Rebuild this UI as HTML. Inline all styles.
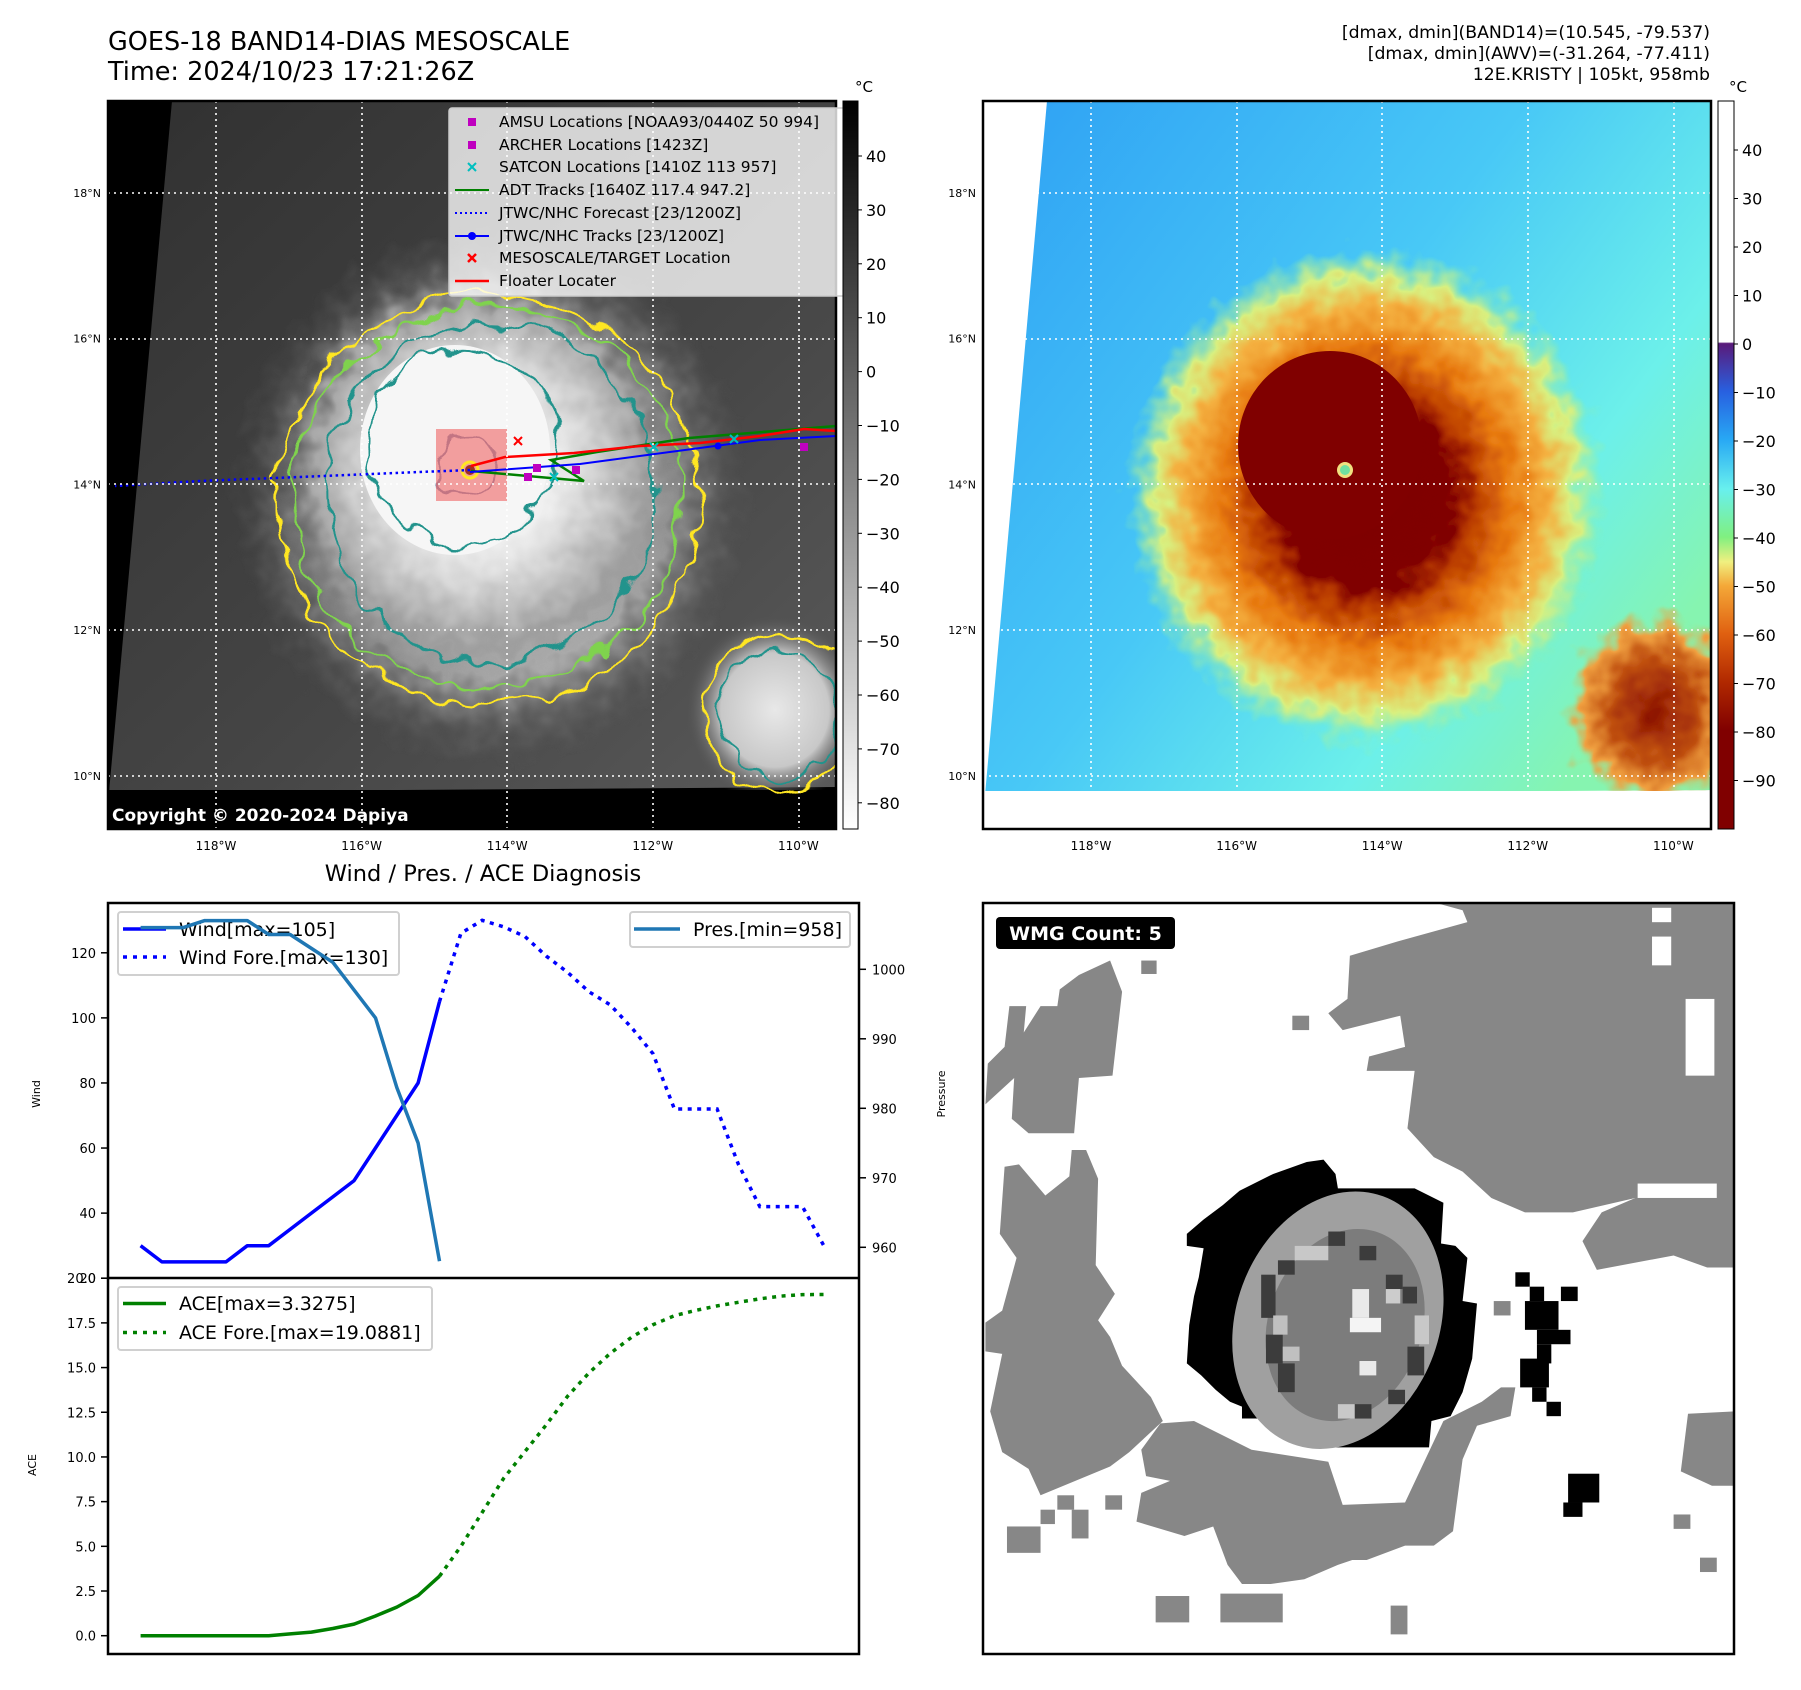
<!DOCTYPE html>
<html><head><meta charset="utf-8">
<style>
html,body{margin:0;padding:0;background:#fff;}
svg{display:block;font-family:"DejaVu Sans","Liberation Sans",sans-serif;}
</style></head>
<body>
<svg id="root" width="1801" height="1690" viewBox="0 0 1801 1690" xmlns="http://www.w3.org/2000/svg">
<defs>
  <filter id="wob" x="-20%" y="-20%" width="140%" height="140%">
    <feTurbulence type="fractalNoise" baseFrequency="0.035" numOctaves="2" seed="3"/>
    <feDisplacementMap in="SourceGraphic" scale="28" xChannelSelector="R" yChannelSelector="G"/>
  </filter>
  <filter id="wob2" x="-20%" y="-20%" width="140%" height="140%">
    <feTurbulence type="fractalNoise" baseFrequency="0.05" numOctaves="2" seed="7"/>
    <feDisplacementMap in="SourceGraphic" scale="40" xChannelSelector="R" yChannelSelector="G"/>
  </filter>
  <radialGradient id="gCloud" cx="0.5" cy="0.5" r="0.5">
    <stop offset="0" stop-color="#fafafa"/>
    <stop offset="0.35" stop-color="#f0f0f0"/>
    <stop offset="0.55" stop-color="#d6d6d6"/>
    <stop offset="0.8" stop-color="#a8a8a8"/>
    <stop offset="1" stop-color="#4a4a4a" stop-opacity="0"/>
  </radialGradient>
  <radialGradient id="gCloud2" cx="0.5" cy="0.5" r="0.5">
    <stop offset="0" stop-color="#e8e8e8"/>
    <stop offset="0.6" stop-color="#c8c8c8"/>
    <stop offset="1" stop-color="#505050" stop-opacity="0"/>
  </radialGradient>
  <linearGradient id="gDarkBg" x1="0" y1="0" x2="1" y2="1">
    <stop offset="0" stop-color="#303030"/>
    <stop offset="0.6" stop-color="#464646"/>
    <stop offset="1" stop-color="#5a5a5a"/>
  </linearGradient>
  <linearGradient id="gBlueBg" x1="0" y1="0" x2="1" y2="0.7">
    <stop offset="0" stop-color="#2ea0f4"/>
    <stop offset="0.5" stop-color="#48c8f6"/>
    <stop offset="0.8" stop-color="#6cf0ea"/>
    <stop offset="1" stop-color="#86f4b0"/>
  </linearGradient>
  <radialGradient id="gStorm" cx="0.5" cy="0.5" r="0.5">
    <stop offset="0" stop-color="#7e0000"/>
    <stop offset="0.36" stop-color="#800000"/>
    <stop offset="0.45" stop-color="#b83a00"/>
    <stop offset="0.6" stop-color="#e87a10"/>
    <stop offset="0.75" stop-color="#f4b040"/>
    <stop offset="0.87" stop-color="#d8f080"/>
    <stop offset="1" stop-color="#80f0b0" stop-opacity="0"/>
  </radialGradient>
  <radialGradient id="gStorm2" cx="0.5" cy="0.5" r="0.5">
    <stop offset="0" stop-color="#8a1000"/>
    <stop offset="0.5" stop-color="#c05010"/>
    <stop offset="0.8" stop-color="#f0a040"/>
    <stop offset="1" stop-color="#90f0a0" stop-opacity="0"/>
  </radialGradient>
  <linearGradient id="gCbGray" x1="0" y1="0" x2="0" y2="1">
    <stop offset="0" stop-color="#000"/>
    <stop offset="1" stop-color="#fff"/>
  </linearGradient>
  <linearGradient id="gCbColor" x1="0" y1="0" x2="0" y2="1">
    <stop offset="0" stop-color="#fff"/>
    <stop offset="0.331" stop-color="#fff"/>
    <stop offset="0.333" stop-color="#5a1a7a"/>
    <stop offset="0.399" stop-color="#2860e0"/>
    <stop offset="0.465" stop-color="#28a8f4"/>
    <stop offset="0.533" stop-color="#68f0ee"/>
    <stop offset="0.599" stop-color="#80f080"/>
    <stop offset="0.633" stop-color="#f0f080"/>
    <stop offset="0.666" stop-color="#f4a838"/>
    <stop offset="0.732" stop-color="#e06010"/>
    <stop offset="0.799" stop-color="#b02800"/>
    <stop offset="0.865" stop-color="#800000"/>
    <stop offset="1" stop-color="#800000"/>
  </linearGradient>
  <clipPath id="clipL"><rect x="108" y="101" width="728" height="728"/></clipPath>
  <clipPath id="clipR"><rect x="983" y="101" width="728" height="728"/></clipPath>
</defs>

<!-- Titles -->
<text x="108" y="50" font-size="25.5">GOES-18 BAND14-DIAS MESOSCALE</text>
<text x="108" y="80" font-size="25.5">Time: 2024/10/23 17:21:26Z</text>
<g font-size="17.3" text-anchor="end">
  <text x="1710" y="38">[dmax, dmin](BAND14)=(10.545, -79.537)</text>
  <text x="1710" y="59">[dmax, dmin](AWV)=(-31.264, -77.411)</text>
  <text x="1710" y="80">12E.KRISTY | 105kt, 958mb</text>
</g>

<!-- LEFT MAP -->
<g>
  <g clip-path="url(#clipL)">
    <rect x="108" y="101" width="728" height="728" fill="#000"/>
    <polygon points="172,101 836,101 836,787 109,792" fill="url(#gDarkBg)"/>
    <ellipse cx="491" cy="496" rx="260" ry="270" fill="url(#gCloud2)" filter="url(#wob2)"/>
    <ellipse cx="478" cy="470" rx="200" ry="205" fill="url(#gCloud)" filter="url(#wob2)"/>
    <ellipse cx="455" cy="450" rx="95" ry="105" fill="#f6f6f6"/>
    <ellipse cx="775" cy="710" rx="90" ry="95" fill="url(#gCloud2)"/>
    <rect x="108" y="790" width="728" height="40" fill="#000"/>
    <g fill="none" stroke-width="2.5" filter="url(#wob)">
      <ellipse cx="488" cy="500" rx="210" ry="205" stroke="#ffe623"/>
      <ellipse cx="488" cy="498" rx="195" ry="190" stroke="#7fd34e"/>
      <ellipse cx="490" cy="492" rx="165" ry="170" stroke="#22938c"/>
      <ellipse cx="462" cy="448" rx="95" ry="98" stroke="#22938c"/>
      <ellipse cx="470" cy="468" rx="32" ry="32" stroke="#3b528b"/>
      <ellipse cx="778" cy="712" rx="75" ry="80" stroke="#ffe623"/>
      <ellipse cx="780" cy="714" rx="60" ry="65" stroke="#22938c"/>
    </g>
    <rect x="436" y="429" width="71" height="72" fill="#f08080" opacity="0.75"/>
    <circle cx="470" cy="470" r="8" fill="none" stroke="#ffe623" stroke-width="3"/>
    <circle cx="470" cy="470" r="5" fill="#a03020"/>
    <polyline points="470,470 420,472 300,477 200,481 115,486" fill="none" stroke="#0000ff" stroke-width="2.5" stroke-dasharray="2.5 3.5"/>
    <polyline points="471,471 584,481 551,460 597,452 689,438 836,426" fill="none" stroke="#008000" stroke-width="2.5"/>
    <polyline points="470,472 580,464 700,448 760,440 836,436" fill="none" stroke="#0000ff" stroke-width="2"/>
    <circle cx="718" cy="446" r="3.5" fill="#0000ff"/>
    <polyline points="471,466 505,457 574,453 640,446 700,443 760,436 804,429 836,431" fill="none" stroke="#ff0000" stroke-width="2.5"/>
    <g stroke="#ff0000" stroke-width="2"><line x1="514" y1="437" x2="522" y2="445"/><line x1="522" y1="437" x2="514" y2="445"/></g>
    <g fill="#bf00bf">
      <rect x="524" y="473" width="8" height="8"/><rect x="533" y="464" width="8" height="8"/>
      <rect x="572" y="466" width="8" height="8"/><rect x="800" y="443" width="8" height="8"/>
    </g>
    <g stroke="#00bfbf" stroke-width="2">
      <line x1="550" y1="473" x2="558" y2="481"/><line x1="558" y1="473" x2="550" y2="481"/>
      <line x1="650" y1="443" x2="658" y2="451"/><line x1="658" y1="443" x2="650" y2="451"/>
      <line x1="730" y1="435" x2="738" y2="443"/><line x1="738" y1="435" x2="730" y2="443"/>
    </g>
    <g stroke="#fff" stroke-width="1.6" stroke-dasharray="2 4">
      <line x1="216" y1="101" x2="216" y2="829"/><line x1="362" y1="101" x2="362" y2="829"/>
      <line x1="507" y1="101" x2="507" y2="829"/><line x1="653" y1="101" x2="653" y2="829"/>
      <line x1="799" y1="101" x2="799" y2="829"/>
      <line x1="108" y1="193" x2="836" y2="193"/><line x1="108" y1="339" x2="836" y2="339"/>
      <line x1="108" y1="484" x2="836" y2="484"/><line x1="108" y1="630" x2="836" y2="630"/>
      <line x1="108" y1="776" x2="836" y2="776"/>
    </g>
    <text x="112" y="821" font-size="17" font-weight="bold" fill="#fff">Copyright © 2020-2024 Dapiya</text>
  </g>
  <rect x="108" y="101" width="728" height="728" fill="none" stroke="#000" stroke-width="2.5"/>
  <g>
    <rect x="449" y="108" width="398" height="188" rx="3" fill="#ffffff" fill-opacity="0.78" stroke="#cccccc" stroke-width="1.5"/>
    <g font-size="15.5" fill="#000">
      <rect x="468" y="118" width="8" height="8" fill="#bf00bf"/><text x="499" y="127">AMSU Locations [NOAA93/0440Z 50 994]</text>
      <rect x="468" y="141" width="8" height="8" fill="#bf00bf"/><text x="499" y="150">ARCHER Locations [1423Z]</text>
      <g stroke="#00bfbf" stroke-width="2"><line x1="468" y1="163" x2="476" y2="171"/><line x1="476" y1="163" x2="468" y2="171"/></g><text x="499" y="172">SATCON Locations [1410Z 113 957]</text>
      <line x1="455" y1="190" x2="489" y2="190" stroke="#008000" stroke-width="2"/><text x="499" y="195">ADT Tracks [1640Z 117.4 947.2]</text>
      <line x1="455" y1="213" x2="489" y2="213" stroke="#0000ff" stroke-width="2" stroke-dasharray="2 3"/><text x="499" y="218">JTWC/NHC Forecast [23/1200Z]</text>
      <line x1="455" y1="236" x2="489" y2="236" stroke="#0000ff" stroke-width="2"/><circle cx="472" cy="236" r="4" fill="#0000ff"/><text x="499" y="241">JTWC/NHC Tracks [23/1200Z]</text>
      <g stroke="#ff0000" stroke-width="2.5"><line x1="468" y1="254" x2="476" y2="262"/><line x1="476" y1="254" x2="468" y2="262"/></g><text x="499" y="263">MESOSCALE/TARGET Location</text>
      <line x1="455" y1="281" x2="489" y2="281" stroke="#ff0000" stroke-width="2.5"/><text x="499" y="286">Floater Locater</text>
    </g>
  </g>
  <rect x="843" y="101" width="15" height="728" fill="url(#gCbGray)" stroke="#000" stroke-width="1"/>
  <text x="855" y="92" font-size="15">°C</text>
  <g id="cbL" font-size="16"></g>
</g>

<!-- RIGHT MAP -->
<g>
  <g clip-path="url(#clipR)">
    <rect x="983" y="101" width="728" height="728" fill="#fff"/>
    <polygon points="1047,101 1711,101 1711,790 985,795" fill="url(#gBlueBg)"/>
    <ellipse cx="1366" cy="496" rx="240" ry="250" fill="url(#gStorm)" filter="url(#wob2)"/>
    <ellipse cx="1330" cy="445" rx="92" ry="94" fill="#800000"/>
    <ellipse cx="1655" cy="710" rx="90" ry="100" fill="url(#gStorm2)" filter="url(#wob2)"/>
    <rect x="983" y="791" width="728" height="40" fill="#fff"/>
    <circle cx="1345" cy="470" r="8" fill="#f0e080"/><circle cx="1345" cy="470" r="5" fill="#70e0a0"/>
    <g stroke="#fff" stroke-width="1.6" stroke-dasharray="2 4">
      <line x1="1091" y1="101" x2="1091" y2="829"/><line x1="1237" y1="101" x2="1237" y2="829"/>
      <line x1="1382" y1="101" x2="1382" y2="829"/><line x1="1528" y1="101" x2="1528" y2="829"/>
      <line x1="1674" y1="101" x2="1674" y2="829"/>
      <line x1="983" y1="193" x2="1711" y2="193"/><line x1="983" y1="339" x2="1711" y2="339"/>
      <line x1="983" y1="484" x2="1711" y2="484"/><line x1="983" y1="630" x2="1711" y2="630"/>
      <line x1="983" y1="776" x2="1711" y2="776"/>
    </g>
  </g>
  <rect x="983" y="101" width="728" height="728" fill="none" stroke="#000" stroke-width="2.5"/>
  <rect x="1718" y="101" width="16" height="728" fill="url(#gCbColor)" stroke="#000" stroke-width="1"/>
  <text x="1729" y="92" font-size="15">°C</text>
  <g id="cbR" font-size="16"></g>
</g>

<g id="mapTicks"></g>

<!-- WMG PANEL -->
<g>
  <svg x="983" y="903" width="752" height="752" viewBox="0 0 1568 1568" preserveAspectRatio="none">
    <rect x="0" y="0" width="1568" height="1568" fill="#fff"/>
    <g fill="#878787">
      <polygon points="945,0 1568,0 1568,760 1510,760 1440,735 1280,765 1250,705 1290,645 1360,615 1230,645 1130,645 1060,615 1000,560 940,530 885,470 900,350 800,350 805,320 880,300 870,235 750,265 720,230 760,200 765,110 865,80 1010,40 1000,15"/>
      <polygon points="160,180 200,150 265,120 290,185 270,360 200,365 190,480 95,480 60,450 65,365 5,420 10,335 45,300 55,215 90,215 85,270 120,215 155,215"/>
      <polygon points="185,515 215,515 240,575 235,755 275,815 240,870 265,905 290,965 350,1030 375,1080 305,1145 265,1175 120,1235 95,1180 40,1145 15,1060 40,940 5,935 5,875 40,850 70,740 35,690 45,550 75,545 130,610 180,570"/>
      <polygon points="330,1140 370,1085 440,1080 500,1110 560,1140 720,1165 750,1255 880,1250 960,1080 1040,1040 1080,1010 1110,1010 1100,1070 1030,1090 1000,1160 980,1310 940,1340 880,1340 800,1370 770,1370 740,1380 670,1410 600,1420 540,1420 510,1380 480,1300 420,1320 320,1290 330,1230 390,1205 340,1195"/>
      <polygon points="1470,1065 1568,1060 1568,1215 1520,1215 1455,1185"/>
      <rect x="645" y="235" width="35" height="30"/><rect x="330" y="120" width="32" height="28"/>
      <rect x="1065" y="830" width="35" height="30"/><rect x="1440" y="1275" width="35" height="30"/>
      <rect x="1495" y="1365" width="35" height="30"/><rect x="850" y="1465" width="35" height="60"/>
      <rect x="360" y="1445" width="70" height="55"/><rect x="495" y="1440" width="130" height="60"/>
      <rect x="50" y="1300" width="70" height="55"/><rect x="120" y="1265" width="30" height="30"/>
      <rect x="155" y="1235" width="35" height="30"/><rect x="185" y="1265" width="35" height="60"/>
      <rect x="255" y="1235" width="35" height="30"/>
    </g>
    <g fill="#fff"><rect x="1395" y="10" width="40" height="30"/><rect x="1395" y="70" width="40" height="60"/><rect x="1465" y="200" width="60" height="160"/><rect x="1365" y="585" width="165" height="30"/></g>
    <polygon fill="#000" points="425,690 460,660 500,630 535,600 605,565 675,540 710,535 735,565 740,595 900,595 960,625 955,710 985,715 1010,740 1000,830 1030,835 1020,950 1000,1020 975,1070 935,1080 930,1135 700,1135 700,1105 610,1105 605,1075 540,1075 540,1050 515,1040 485,1015 455,985 425,960 430,880 440,820 450,780 460,720 425,715"/>
    <ellipse cx="740" cy="870" rx="275" ry="212" fill="#a0a0a0" transform="rotate(-70 740 870)"/>
    <ellipse cx="755" cy="880" rx="205" ry="160" fill="#7c7c7c" transform="rotate(-70 755 880)"/>
    <g>
      <rect x="720" y="685" width="35" height="30" fill="#3c3c3c"/><rect x="785" y="715" width="35" height="30" fill="#3c3c3c"/>
      <rect x="615" y="745" width="35" height="30" fill="#3c3c3c"/><rect x="580" y="775" width="30" height="90" fill="#3c3c3c"/>
      <rect x="840" y="775" width="35" height="30" fill="#3c3c3c"/><rect x="875" y="800" width="30" height="35" fill="#3c3c3c"/>
      <rect x="590" y="900" width="35" height="60" fill="#3c3c3c"/><rect x="615" y="960" width="35" height="60" fill="#3c3c3c"/>
      <rect x="885" y="925" width="35" height="60" fill="#3c3c3c"/><rect x="845" y="1015" width="35" height="30" fill="#3c3c3c"/>
      <rect x="775" y="1045" width="35" height="30" fill="#3c3c3c"/>
      <rect x="650" y="715" width="70" height="30" fill="#c8c8c8"/><rect x="770" y="805" width="35" height="60" fill="#eaeaea"/>
      <rect x="765" y="865" width="65" height="30" fill="#f4f4f4"/><rect x="840" y="805" width="30" height="30" fill="#cccccc"/>
      <rect x="785" y="955" width="35" height="30" fill="#eaeaea"/><rect x="900" y="860" width="30" height="60" fill="#c8c8c8"/>
      <rect x="605" y="860" width="30" height="40" fill="#c0c0c0"/><rect x="625" y="925" width="35" height="30" fill="#c0c0c0"/>
      <rect x="740" y="1045" width="35" height="30" fill="#c8c8c8"/>
    </g>
    <g fill="#000">
      <rect x="1110" y="770" width="30" height="30"/><rect x="1140" y="800" width="30" height="30"/>
      <rect x="1130" y="830" width="70" height="60"/><rect x="1155" y="890" width="70" height="30"/>
      <rect x="1155" y="920" width="30" height="40"/><rect x="1120" y="950" width="60" height="60"/>
      <rect x="1145" y="1010" width="30" height="30"/><rect x="1175" y="1040" width="30" height="30"/>
      <rect x="1205" y="800" width="35" height="30"/><rect x="1220" y="1190" width="65" height="60"/>
      <rect x="1210" y="1250" width="40" height="30"/>
    </g>
  </svg>
  <rect x="983" y="903" width="751" height="751" fill="none" stroke="#000" stroke-width="2.5"/>
  <rect x="996" y="917" width="179" height="32" rx="4" fill="#000"/>
  <text x="1085.5" y="940" font-size="19" font-weight="bold" fill="#fff" text-anchor="middle">WMG Count: 5</text>
</g>

<!-- DIAGNOSIS CHART -->
<text x="483" y="881" font-size="22.5" text-anchor="middle">Wind / Pres. / ACE Diagnosis</text>
<g id="chart"></g>

<script>
// ---- chart data ----
const windObs = [30,25,25,25,25,30,30,35,40,45,50,60,70,80,105];
const windFcst = [105,126,130,128,125,119,114,108,104,97,89,72,72,72,55,42,42,42,30];
const presObs = [1006,1006,1006,1007,1007,1007,1005,1005,1003,1001,997,993,983,975,958];
const aceObs = [0,0,0,0,0,0,0,0.1,0.2,0.4,0.65,1.1,1.6,2.25,3.33];
const aceFcst = [3.33,5.0,6.9,8.8,10.3,11.8,13.4,14.7,15.8,16.7,17.4,17.9,18.2,18.45,18.65,18.85,19.0,19.08,19.09];
const windTicks = [20,40,60,80,100,120];
const presTicks = [960,970,980,990,1000];
const aceTicks = [0,2.5,5,7.5,10,12.5,15,17.5,20];
const fcstStart = 14;
const lonLabels = ["118°W","116°W","114°W","112°W","110°W"];
const latLabels = ["18°N","16°N","14°N","12°N","10°N"];
const irCbTicks = [40,30,20,10,0,-10,-20,-30,-40,-50,-60,-70,-80];
const awvCbTicks = [40,30,20,10,0,-10,-20,-30,-40,-50,-60,-70,-80,-90];

const NS = "http://www.w3.org/2000/svg";
function mk(tag, attrs, parent){ const e=document.createElementNS(NS,tag); for(const k in attrs) e.setAttribute(k,attrs[k]); parent.appendChild(e); return e; }

const L=108, R=859, T=903, MID=1278, B=1654;
const xI = i => 140.6 + i*21.35;
const yWind = v => 1278.2 - (v-20)*3.254;
const yPres = v => 1247.3 - (v-960)*6.95;
const yAce = v => 1635.7 - v*17.875;
const lonX = i => 216 + i*145.6;
const latY = i => 193 + i*145.7;
const cbLY = v => 156 + (40-v)*5.39;
const cbRY = v => 150 + (40-v)*4.85;

const mt = document.getElementById('mapTicks');
[0,875].forEach(off=>{
  lonLabels.forEach((t,i)=>{
    const e=mk('text',{x:lonX(i)+off,y:850,'font-size':12,'text-anchor':'middle'},mt); e.textContent=t;
    
    
  });
  latLabels.forEach((t,i)=>{
    const e=mk('text',{x:101+off,y:latY(i)+4,'font-size':11,'text-anchor':'end'},mt); e.textContent=t;
    
    
  });
});
const cbL=document.getElementById('cbL');
irCbTicks.forEach(v=>{
  mk('line',{x1:858,x2:862,y1:cbLY(v),y2:cbLY(v),stroke:'#000'},cbL);
  const e=mk('text',{x:866,y:cbLY(v)+6},cbL); e.textContent=(v<0?'\u2212'+(-v):v);
  
  
});
const cbR=document.getElementById('cbR');
awvCbTicks.forEach(v=>{
  mk('line',{x1:1734,x2:1738,y1:cbRY(v),y2:cbRY(v),stroke:'#000'},cbR);
  const e=mk('text',{x:1742,y:cbRY(v)+6},cbR); e.textContent=(v<0?'\u2212'+(-v):v);
  
  
});

const ch=document.getElementById('chart');
function pts(arr, off, yf){ return arr.map((v,i)=>xI(i+off).toFixed(1)+','+yf(v).toFixed(1)).join(' '); }

windTicks.forEach(v=>{
  mk('line',{x1:L-7,x2:L,y1:yWind(v),y2:yWind(v),stroke:'#000','stroke-width':1.5},ch);
  const e=mk('text',{x:L-12,y:yWind(v)+5,'font-size':13,'text-anchor':'end'},ch); e.textContent=v;
  
  
});
presTicks.forEach(v=>{
  mk('line',{x1:R,x2:R+7,y1:yPres(v),y2:yPres(v),stroke:'#000','stroke-width':1.5},ch);
  const e=mk('text',{x:R+13,y:yPres(v)+5,'font-size':13},ch); e.textContent=v;
  
  
});
aceTicks.forEach(v=>{
  mk('line',{x1:L-7,x2:L,y1:yAce(v),y2:yAce(v),stroke:'#000','stroke-width':1.5},ch);
  const e=mk('text',{x:L-12,y:yAce(v)+5,'font-size':13,'text-anchor':'end'},ch); e.textContent=v.toFixed(1);
  
  
});
let e;
e=mk('text',{x:40,y:1094,'font-size':11,'text-anchor':'middle',transform:'rotate(-90 40 1094)'},ch); e.textContent='Wind';


e=mk('text',{x:945,y:1094,'font-size':11,'text-anchor':'middle',transform:'rotate(-90 945 1094)'},ch); e.textContent='Pressure';


e=mk('text',{x:36,y:1465,'font-size':11,'text-anchor':'middle',transform:'rotate(-90 36 1465)'},ch); e.textContent='ACE';



e=mk('polyline',{points:pts(windObs,0,yWind),fill:'none',stroke:'#0000ff','stroke-width':3.5,'stroke-linejoin':'round'},ch);


e=mk('polyline',{points:pts(windFcst,fcstStart,yWind),fill:'none',stroke:'#0000ff','stroke-width':3.5,'stroke-dasharray':'4 5.5'},ch);



const wl=mk('g',{},ch);


mk('rect',{x:118,y:912,width:281,height:63,rx:3,fill:'#fff','fill-opacity':0.8,stroke:'#d0d0d0','stroke-width':2},wl);
mk('line',{x1:123,x2:166,y1:929,y2:929,stroke:'#0000ff','stroke-width':3.5},wl);
mk('line',{x1:123,x2:166,y1:957,y2:957,stroke:'#0000ff','stroke-width':3.5,'stroke-dasharray':'4 6'},wl);
e=mk('text',{x:179,y:936,'font-size':19},wl); e.textContent='Wind[max=105]';
e=mk('text',{x:179,y:964,'font-size':19},wl); e.textContent='Wind Fore.[max=130]';

e=mk('polyline',{points:pts(presObs,0,yPres),fill:'none',stroke:'#1f77b4','stroke-width':3.5,'stroke-linejoin':'round'},ch);


const pl=mk('g',{},ch);


mk('rect',{x:630,y:912,width:220,height:35,rx:3,fill:'#fff','fill-opacity':0.8,stroke:'#d0d0d0','stroke-width':2},pl);
mk('line',{x1:634,x2:680,y1:929,y2:929,stroke:'#1f77b4','stroke-width':3.5},pl);
e=mk('text',{x:693,y:936,'font-size':19},pl); e.textContent='Pres.[min=958]';

e=mk('polyline',{points:pts(aceObs,0,yAce),fill:'none',stroke:'#008000','stroke-width':3.5,'stroke-linejoin':'round'},ch);


e=mk('polyline',{points:pts(aceFcst,fcstStart,yAce),fill:'none',stroke:'#008000','stroke-width':3.5,'stroke-dasharray':'4 5.5'},ch);


const al=mk('g',{},ch);


mk('rect',{x:118,y:1287,width:314,height:63,rx:3,fill:'#fff','fill-opacity':0.8,stroke:'#d0d0d0','stroke-width':2},al);
mk('line',{x1:123,x2:166,y1:1303.5,y2:1303.5,stroke:'#008000','stroke-width':3.5},al);
mk('line',{x1:123,x2:166,y1:1332.5,y2:1332.5,stroke:'#008000','stroke-width':3.5,'stroke-dasharray':'4 6'},al);
e=mk('text',{x:179,y:1310,'font-size':19},al); e.textContent='ACE[max=3.3275]';
e=mk('text',{x:179,y:1339,'font-size':19},al); e.textContent='ACE Fore.[max=19.0881]';

mk('rect',{x:L,y:T,width:R-L,height:B-T,fill:'none',stroke:'#000','stroke-width':2.5},ch);
mk('line',{x1:L,x2:R,y1:MID,y2:MID,stroke:'#000','stroke-width':2.5},ch);
</script>
</svg>
</body></html>
